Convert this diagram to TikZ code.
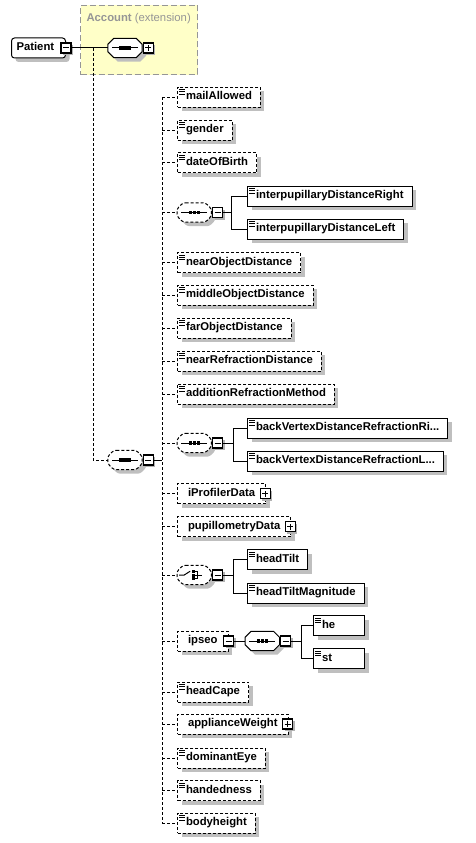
\documentclass[tikz,border=0pt]{standalone}
\usepackage{fontspec}
\setmainfont{Liberation Sans}
\usetikzlibrary{shadows,positioning}

\definecolor{extFill}{RGB}{255,255,200}
\definecolor{extLine}{RGB}{150,150,150}
\definecolor{extText}{RGB}{150,150,150}

\newcommand{\elemFont}{\fontsize{11.3pt}{13pt}\selectfont\bfseries}
\newcommand{\octPath}[1]{([xshift=6pt]#1.north west) -- ([xshift=-6pt]#1.north east)
  -- ([yshift=-6pt]#1.north east) -- ([yshift=6pt]#1.south east) -- ([xshift=-6pt]#1.south east)
  -- ([xshift=6pt]#1.south west) -- ([yshift=6pt]#1.south west) -- ([yshift=-6pt]#1.north west) -- cycle}
\newcommand{\drawSeq}[2]{
  \draw[fill=white, line width=1pt, boxShadow, #2] \octPath{#1};
  \draw[shift={(#1.center)}, line width=1pt] (-13pt,0pt) -- (13pt,0pt);
  \foreach \dx in {-4,0,4}
    \fill[shift={(#1.center)}] (\dx pt,0pt) +(-1.6pt,-1.6pt) rectangle +(1.6pt,1.6pt);
}
\newcommand{\drawChoice}[2]{
  \draw[fill=white, line width=1pt, boxShadow, #2] \octPath{#1};
  \draw[shift={(#1.center)}, line width=1pt] (-15pt,0pt) -- (-10pt,0pt) -- (-4pt,3.8pt);
  \foreach \dy in {-3.8,0,3.8}
    \fill[shift={(#1.center)}] (-1pt,\dy pt) +(-1.5pt,-1.5pt) rectangle +(1.5pt,1.5pt);
  \draw[shift={(#1.center)}, line width=1pt] (-1pt,3.8pt) -| (3.5pt,-3.8pt) -- (-1pt,-3.8pt)
    (-1pt,0pt) -- (8pt,0pt);
}

\tikzset{
  boxShadow/.style={drop shadow={shadow xshift=4pt, shadow yshift=-4pt, fill=black!25, opacity=1}},
  opt/.style={dash pattern=on 3pt off 2pt},
  optSeq/.style={opt, rounded corners=2.5pt},
  elem/.style={draw, fill=white, line width=1pt, boxShadow, font=\elemFont, anchor=west,
    minimum height=20pt, inner xsep=8.5pt, inner ysep=0pt, text height=8pt, text depth=2.4pt},
  leaf/.style={elem, path picture={
    \foreach \d in {2.5,4.8,7.1}
      \draw[solid, line width=0.9pt] ([shift={(1.5pt,-\d pt)}]path picture bounding box.north west) -- ++(6pt,0pt);}},
  cplx/.style={elem, inner xsep=10.5pt},
  seqBox/.style={minimum width=34pt, minimum height=19pt, inner sep=0pt},
  tog/.style={draw, fill=white, solid, line width=1.2pt, minimum size=10pt, inner sep=0pt,
    drop shadow={shadow xshift=2pt, shadow yshift=-2pt, fill=black!30, opacity=1}},
  minusT/.style={tog, path picture={
    \draw[line width=1pt] ([xshift=2pt]path picture bounding box.west) -- ([xshift=-2pt]path picture bounding box.east);}},
  plusT/.style={tog, path picture={
    \draw[line width=1pt] ([xshift=2pt]path picture bounding box.west) -- ([xshift=-2pt]path picture bounding box.east)
      ([yshift=2pt]path picture bounding box.south) -- ([yshift=-2pt]path picture bounding box.north);}},
  extBox/.style={draw=extLine, fill=extFill, line width=1pt, dash pattern=on 6pt off 3pt, anchor=north west},
  conn/.style={line width=1pt},
  optConn/.style={conn, opt}
}

\begin{document}
\begin{tikzpicture}[x=1pt, y=-1pt]
  \useasboundingbox (0,0) rectangle (476,843);
  % Extension
  \node[extBox, minimum width=117pt, minimum height=69pt] (account) at (80,5) {};
  \node[anchor=west, text=extText, font=\fontsize{11.3pt}{13pt}\selectfont] (accountTitle) at (83,19) {\textbf{Account} (extension)};

  % Root
  \node[elem, rounded corners=3pt, text width=44pt, inner xsep=5pt] (patient) at (11,48) {Patient};
  \node[minusT] (patientT) at (patient.east) {};
  \node[seqBox] (accountSeq) at (125,48) {};
  \drawSeq{accountSeq}{}
  \node[plusT, right=0.5pt of accountSeq] (accountSeqT) {};

  % Main sequence
  \node[seqBox] (mainSeq) at (125,460) {};
  \drawSeq{mainSeq}{optSeq}
  \node[minusT, right=0.5pt of mainSeq] (mainSeqT) {};

  % Children
  \node[leaf, opt] (mailAllowed) at (177,97) {mailAllowed};
  \node[leaf, opt] (gender) at (177,130) {gender};
  \node[leaf, opt] (dateOfBirth) at (177,162.5) {dateOfBirth};
  \node[seqBox, anchor=west] (ipdSeq) at (177,212.5) {};
  \drawSeq{ipdSeq}{optSeq}
  \node[minusT, right=0.5pt of ipdSeq] (ipdSeqT) {};
  \node[leaf] (ipdRight) at (247,196) {interpupillaryDistanceRight};
  \node[leaf] (ipdLeft) at (247,229) {interpupillaryDistanceLeft};
  \node[leaf, opt] (nearObjectDistance) at (177,262.5) {nearObjectDistance};
  \node[leaf, opt] (middleObjectDistance) at (177,295) {middleObjectDistance};
  \node[leaf, opt] (farObjectDistance) at (177,328) {farObjectDistance};
  \node[leaf, opt] (nearRefractionDistance) at (177,361) {nearRefractionDistance};
  \node[leaf, opt] (additionRefractionMethod) at (177,394) {additionRefractionMethod};
  \node[seqBox, anchor=west] (bvdSeq) at (177,443) {};
  \drawSeq{bvdSeq}{optSeq}
  \node[minusT, right=0.5pt of bvdSeq] (bvdSeqT) {};
  \node[leaf] (bvdRight) at (247,428) {backVertexDistanceRefractionRi...};
  \node[leaf] (bvdLeft) at (247,461) {backVertexDistanceRefractionL...};
  \node[cplx, opt] (iProfilerData) at (177,493.5) {iProfilerData};
  \node[plusT] (iProfilerDataT) at ([xshift=-1pt]iProfilerData.east) {};
  \node[cplx, opt] (pupillometryData) at (177,526.5) {pupillometryData};
  \node[plusT] (pupillometryDataT) at ([xshift=-1pt]pupillometryData.east) {};
  \node[seqBox, anchor=west] (headChoice) at (177,575) {};
  \drawChoice{headChoice}{optSeq}
  \node[minusT, right=0.5pt of headChoice] (headChoiceT) {};
  \node[leaf] (headTilt) at (247,559.5) {headTilt};
  \node[leaf] (headTiltMagnitude) at (247,593) {headTiltMagnitude};
  \node[cplx, opt] (ipseo) at (177,641) {ipseo};
  \node[minusT] (ipseoT) at (ipseo.east) {};
  \node[seqBox, right=11pt of ipseoT] (ipseoSeq) {};
  \drawSeq{ipseoSeq}{}
  \node[minusT, right=0.5pt of ipseoSeq] (ipseoSeqT) {};
  \node[leaf, text width=34pt] (he) at (313,625.5) {he};
  \node[leaf, text width=34pt] (st) at (313,658.5) {st};
  \node[leaf, opt] (headCape) at (177,692) {headCape};
  \node[cplx, opt] (applianceWeight) at (177,724) {applianceWeight};
  \node[plusT] (applianceWeightT) at ([xshift=-1pt]applianceWeight.east) {};
  \node[leaf, opt] (dominantEye) at (177,758) {dominantEye};
  \node[leaf, opt] (handedness) at (177,790.5) {handedness};
  \node[leaf, opt] (bodyheight) at (177,823) {bodyheight};

  % Connectors
  \coordinate (branch) at (93,48);
  \coordinate (spine) at (162,460);
  \draw[conn] (patientT) -- (accountSeq);
  \draw[optConn] (branch) |- (mainSeq);
  \draw[conn] (mainSeqT) -- (spine);
  \draw[optConn] (spine |- mailAllowed.west) -- (spine |- bodyheight.west);
  \foreach \n in {mailAllowed, gender, dateOfBirth, ipdSeq, nearObjectDistance, middleObjectDistance,
      farObjectDistance, nearRefractionDistance, additionRefractionMethod, bvdSeq, iProfilerData,
      pupillometryData, headChoice, ipseo, headCape, applianceWeight, dominantEye, handedness, bodyheight}
    \draw[optConn] (spine |- \n.west) -- (\n.west);
  \draw[conn] (ipdSeqT.east) -- ++(8,0) |- (ipdRight);
  \draw[conn] (ipdSeqT.east) -- ++(8,0) |- (ipdLeft);
  \draw[conn] (bvdSeqT.east) -- ++(10,0) |- (bvdRight);
  \draw[conn] (bvdSeqT.east) -- ++(10,0) |- (bvdLeft);
  \draw[conn] (headChoiceT.east) -- ++(10,0) |- (headTilt);
  \draw[conn] (headChoiceT.east) -- ++(10,0) |- (headTiltMagnitude);
  \draw[conn] (ipseoT) -- (ipseoSeq);
  \draw[conn] (ipseoSeqT.east) -- ++(10,0) |- (he);
  \draw[conn] (ipseoSeqT.east) -- ++(10,0) |- (st);
\end{tikzpicture}
\end{document}
